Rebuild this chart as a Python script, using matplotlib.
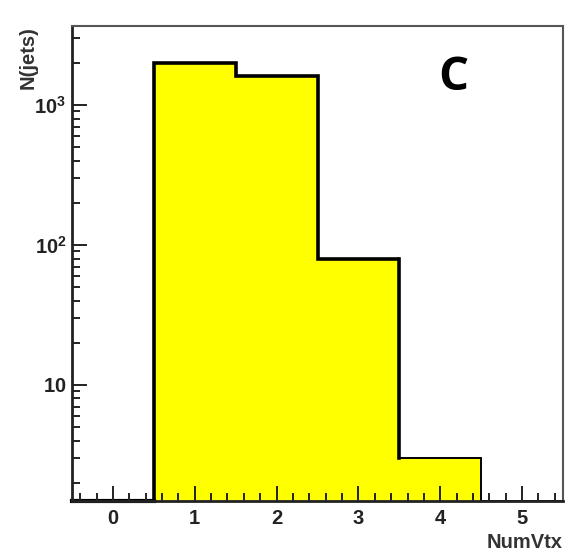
import matplotlib
matplotlib.use("Agg")
import matplotlib.pyplot as plt
import numpy as np
from matplotlib.ticker import FixedLocator, MultipleLocator, FuncFormatter

plt.rcParams["font.family"] = ["Liberation Sans", "DejaVu Sans"]
plt.rcParams["mathtext.fontset"] = "custom"
plt.rcParams["mathtext.rm"] = "Liberation Sans:bold"
plt.rcParams["mathtext.bf"] = "Liberation Sans:bold"

# ---- data: NumVtx histogram ----
edges = np.array([-0.5, 0.5, 1.5, 2.5, 3.5, 4.5, 5.5])
counts = np.array([0, 2000, 1600, 80, 3, 0])
YMIN, YMAX = 1.48, 3670

fig = plt.figure(figsize=(5.66, 5.5), dpi=100)
ax = fig.add_axes([72/566, 49/550, 491/566, 475/550])
ax.set_yscale("log")
ax.set_xlim(edges[0], edges[-1])
ax.set_ylim(YMIN, YMAX)
ax.set_axisbelow(False)

YEL = "#ffff00"
centers = (edges[:-1] + edges[1:]) / 2
widths = np.diff(edges)
nz = counts > 0
ax.bar(centers[nz], counts[nz] - YMIN, bottom=YMIN, width=widths[nz],
       color=YEL, edgecolor="none", zorder=1)

# outline: thick for bins up to 3, thinner for the tail
clip = np.maximum(counts, YMIN)
ax.stairs(clip[:4], edges[:5], color="black", lw=2.6, baseline=None, zorder=2)
ax.plot([3.5, 3.5], [clip[3], clip[4]], color="black", lw=2.6, zorder=2)
ax.stairs(clip[4:], edges[4:], color="black", lw=1.4, baseline=None, zorder=2)
ax.plot([-0.5, 0.5], [YMIN, YMIN], color="black", lw=3, zorder=2, clip_on=False)

# ROOT-style ticks
ax.xaxis.set_major_locator(MultipleLocator(1))
ax.xaxis.set_minor_locator(MultipleLocator(0.2))
ax.yaxis.set_major_locator(FixedLocator([10, 100, 1000]))
minors = [m * 10**e for e in range(0, 4) for m in range(2, 10) if YMIN <= m * 10**e <= YMAX]
ax.yaxis.set_minor_locator(FixedLocator(minors))

def ylab(v, pos):
    if v == 10:
        return r"$\mathbf{10}$"
    return r"$\mathbf{10^{%d}}$" % int(round(np.log10(v)))
ax.yaxis.set_major_formatter(FuncFormatter(ylab))
ax.yaxis.set_minor_formatter(FuncFormatter(lambda v, p: ""))

ax.tick_params(which="both", direction="in", top=False, right=False, colors="#222222",
               width=1.4, labelsize=14.5, labelcolor="#222222")
ax.tick_params(which="major", length=11)
ax.tick_params(which="minor", length=6)
ax.tick_params(axis="x", pad=6)
ax.tick_params(axis="y", pad=4)
for lab in ax.get_xticklabels():
    lab.set_fontweight("bold")

for s in ["left", "bottom"]:
    ax.spines[s].set_linewidth(2)
    ax.spines[s].set_color("#222222")
for s in ["top", "right"]:
    ax.spines[s].set_linewidth(1.5)
    ax.spines[s].set_color("#555555")

ax.set_xlabel("NumVtx", fontsize=14.5, fontweight="bold", color="#333333", loc="right", labelpad=3)
ax.set_ylabel("N(jets)", fontsize=14.5, fontweight="bold", color="#333333", loc="top")
ax.yaxis.set_label_coords(-0.07, 1.0)

ax.text(453/566, 1 - 78/550, "C", transform=fig.transFigure, fontsize=34,
        fontweight="bold", family="Open Sans", ha="center", va="center", color="black")

fig.savefig("out.png", dpi=100)
